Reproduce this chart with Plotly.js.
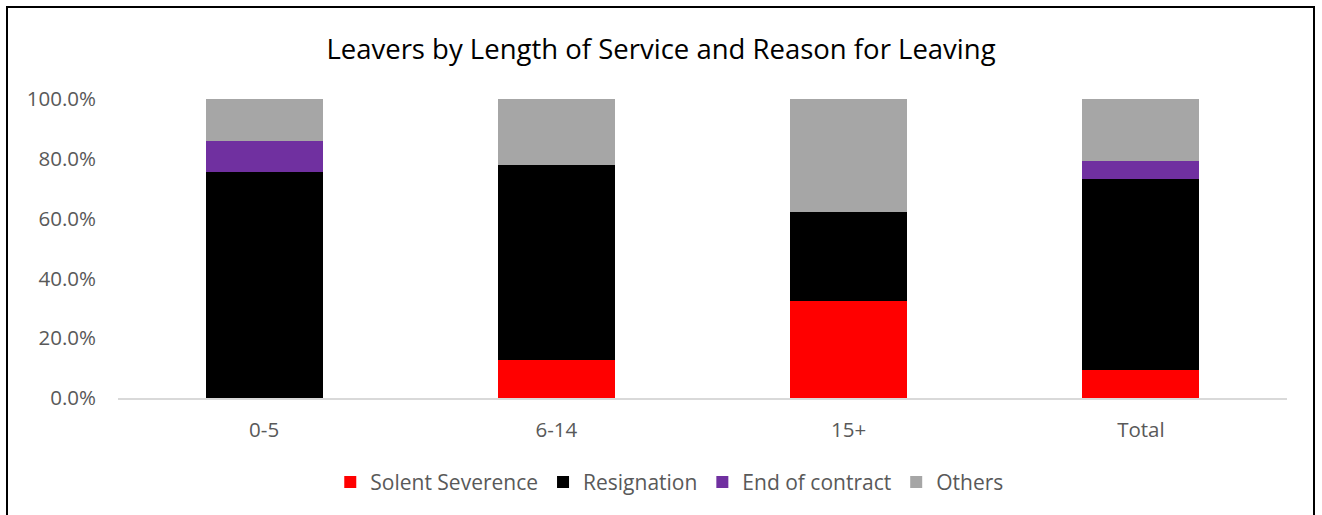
<!DOCTYPE html>
<html>
<head>
<meta charset="utf-8">
<script src="https://cdn.plot.ly/plotly-3.0.1.min.js"></script>
<style>
html,body{margin:0;padding:0;background:#fff;}
#wrap{position:relative;width:1322px;height:515px;overflow:hidden;}
#chart{width:1322px;height:515px;}
#frame{position:absolute;left:6px;top:6px;width:1309px;height:540px;border:2px solid #000;pointer-events:none;box-sizing:border-box;}
</style>
</head>
<body>
<div id="wrap">
<div id="chart"></div>
<div id="frame"></div>
</div>
<script>
const categories = ["0-5", "6-14", "15+", "Total"];
const solentSeverence = [0.000, 0.128, 0.323, 0.095];
const resignation     = [0.755, 0.652, 0.298, 0.638];
const endOfContract   = [0.106, 0.000, 0.000, 0.061];
const others          = [0.139, 0.220, 0.379, 0.206];
const yTickVals = [0, 0.2, 0.4, 0.6, 0.8, 1.0];
const yTickText = ["0.0%", "20.0%", "40.0%", "60.0%", "80.0%", "100.0%"];

const FONT = "Open Sans, Noto Sans, sans-serif";
function mk(name, vals, color){
  return {type:"bar", name:name, x:categories, y:vals,
    marker:{color:color, line:{width:0}}, hoverinfo:"x+y+name"};
}
const data = [
  mk("Solent Severence", solentSeverence, "#FF0000"),
  mk("Resignation", resignation, "#000000"),
  mk("End of contract", endOfContract, "#7030A0"),
  mk("Others", others, "#A6A6A6")
];
const layout = {
  width:1322, height:515,
  margin:{l:118, r:35, t:99, b:116.5, pad:0},
  paper_bgcolor:"#fff", plot_bgcolor:"#fff",
  barmode:"stack", bargap:0.6,
  title:{text:"Leavers by Length of Service and Reason for Leaving",
    font:{family:FONT, size:27.5, color:"#000"}, x:0.5, xanchor:"center", y:0.905, yanchor:"middle"},
  font:{family:FONT, color:"#595959", size:20.5},
  xaxis:{type:"category", range:[-0.5,3.5], showline:true, linecolor:"#D9D9D9", linewidth:2,
    ticks:"", showgrid:false, zeroline:false, ticklabelstandoff:12, tickfont:{size:20.5, color:"#595959"}, fixedrange:true},
  yaxis:{range:[0,1], tickvals:yTickVals, ticktext:yTickText, showgrid:false, zeroline:false,
    showline:false, ticks:"", ticklabelstandoff:21, tickfont:{size:20.5, color:"#595959"}, fixedrange:true},
  showlegend:true,
  legend:{orientation:"h", x:0.472, xanchor:"center", y:-0.282, yanchor:"middle",
    font:{size:21, color:"#595959"}, traceorder:"normal", itemwidth:30, bgcolor:"rgba(0,0,0,0)"}
};
Plotly.newPlot("chart", data, layout, {displayModeBar:false, staticPlot:true});
</script>
</body>
</html>
